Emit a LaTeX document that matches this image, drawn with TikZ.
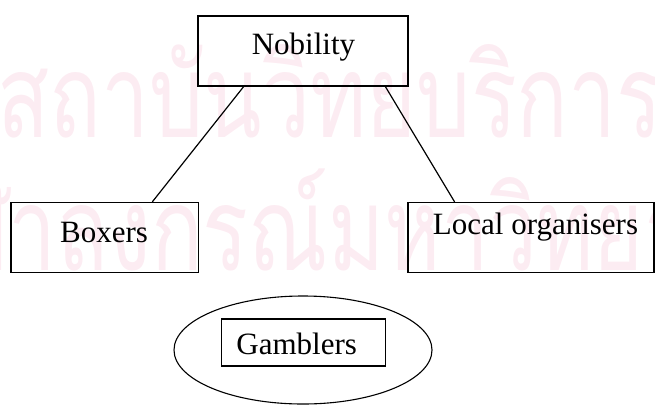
\documentclass[tikz,border=0pt]{standalone}
\usepackage{fontspec}
\setmainfont{Liberation Serif}
\newfontfamily\thaifont[Script=Thai]{Loma}
\usetikzlibrary{calc,shapes.geometric}
\definecolor{wmpink}{RGB}{252,236,242}
\tikzset{
  boxnode/.style={draw, line width=1.3pt, inner sep=0pt, minimum width=#1},
  lbl/.style={anchor=base, inner sep=0pt, font=\fontsize{31}{37}\selectfont},
  wm/.style={inner sep=0pt, text=wmpink, xscale=0.93, yscale=1.26, transform shape,
    font=\thaifont\fontsize{92}{100}\selectfont},
  link/.style={line width=1.2pt}
}
\begin{document}
\begin{tikzpicture}[x=1pt,y=-1pt]
\useasboundingbox (0,0) rectangle (655,407);
\clip (0,0) rectangle (655,407);
% watermark
\node[wm, anchor=base west] (wma) at (-3,137) {สถาบันวิทยบริการ};
\node[wm, anchor=base west] (wmb) at (-100,270) {จุฬาลงกรณ์มหาวิทยาลัย};
% boxes
\node[boxnode=210pt, minimum height=70pt] (nob) at (303,51) {};
\node[boxnode=187.5pt, minimum height=70pt] (box) at (104.75,237.5) {};
\node[boxnode=246pt, minimum height=70pt] (loc) at (531,237.5) {};
\node[ellipse, draw, line width=1.1pt, inner sep=0pt, minimum width=258pt, minimum height=108pt] (ell) at (303,350) {};
\node[boxnode=164pt, minimum height=47pt] (gam) at (303.5,342.5) {};
% labels
\node[lbl] (tnob) at (303.5,54) {Nobility};
\node[lbl] (tbox) at (104,242.3) {Boxers};
\node[lbl] (tloc) at (535.5,234) {Local organisers};
\node[lbl] (tgam) at (296.7,354.3) {Gamblers};
% links
\draw[link] ($(nob.south west)!0.219!(nob.south east)$) -- ($(box.north west)!0.752!(box.north east)$);
\draw[link] ($(nob.south west)!0.890!(nob.south east)$) -- ($(loc.north west)!0.191!(loc.north east)$);
\end{tikzpicture}
\end{document}
